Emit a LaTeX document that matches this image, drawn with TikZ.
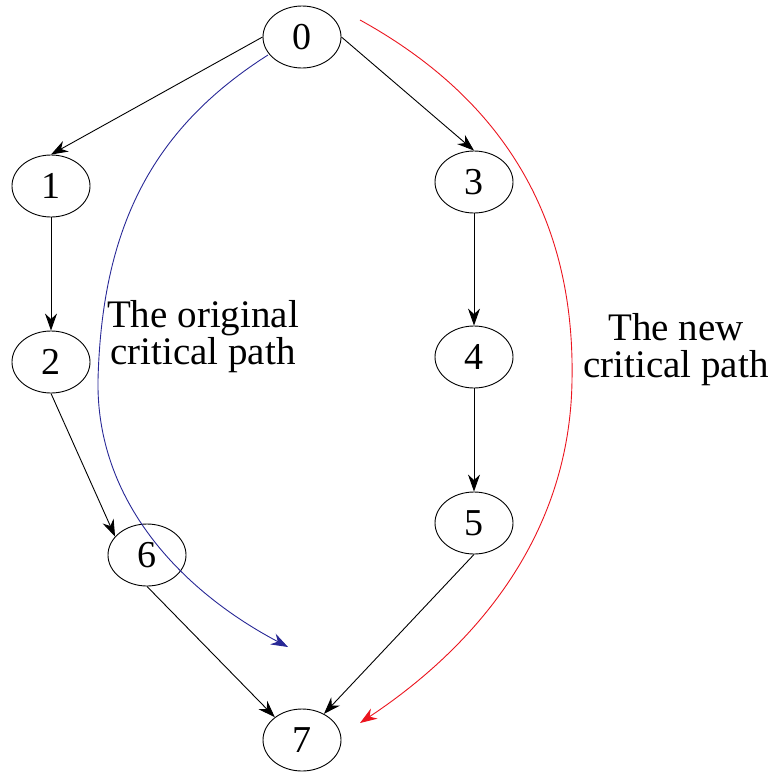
\documentclass[tikz,border=0pt]{standalone}
\usepackage{fontspec}
\setmainfont{Liberation Serif}
\usetikzlibrary{arrows.meta,shapes.geometric}
\definecolor{pathblue}{RGB}{40,40,150}
\definecolor{pathred}{RGB}{235,20,30}
\begin{document}
\begin{tikzpicture}[x=1pt,y=-1pt,
  vtx/.style={ellipse,draw,line width=0.9pt,inner sep=0pt,minimum width=78pt,minimum height=62pt,font=\fontsize{38}{38}\selectfont},
  edge/.style={draw,line width=0.9pt,-{Stealth[length=17pt,width=12pt]}},
  cpath/.style={line width=0.9pt,-{Stealth[length=17pt,width=12pt]}},
  lbl/.style={align=center,font=\fontsize{39}{37}\selectfont,inner sep=0pt}]
\useasboundingbox (0,0) rectangle (775,771);
\node[vtx] (n0) at (302,37) {0};
\node[vtx] (n1) at (51,186) {1};
\node[vtx] (n2) at (51,362) {2};
\node[vtx] (n3) at (474,182) {3};
\node[vtx] (n4) at (474,357) {4};
\node[vtx] (n5) at (474,523) {5};
\node[vtx] (n6) at (147,555) {6};
\node[vtx] (n7) at (302,740) {7};
\draw[edge] (n0.west) -- (n1.north);
\draw[edge] (n1) -- (n2);
\draw[edge] (n2.south) -- (n6.150);
\draw[edge] (n6.south) -- (n7.140);
\draw[edge] (n0.east) -- (n3.north);
\draw[edge] (n3) -- (n4);
\draw[edge] (n4) -- (n5);
\draw[edge] (n5.south) -- (n7.50);
\coordinate (bs) at (268,55);
\coordinate (bm) at (98,380);
\coordinate (be) at (288,647);
\coordinate (rs) at (360,20);
\coordinate (rm) at (572,380);
\coordinate (re) at (360,723);
\draw[cpath,pathblue] (bs) .. controls (150,130) and (102,230) .. (bm) .. controls (96,500) and (180,590) .. (be);
\draw[cpath,pathred] (rs) .. controls (505,100) and (575,220) .. (rm) .. controls (570,540) and (470,650) .. (re);
\node[lbl] (lo) at (203,337) {The original\\critical path};
\node[lbl] (ln) at (676,350) {The new\\critical path};
\end{tikzpicture}
\end{document}
